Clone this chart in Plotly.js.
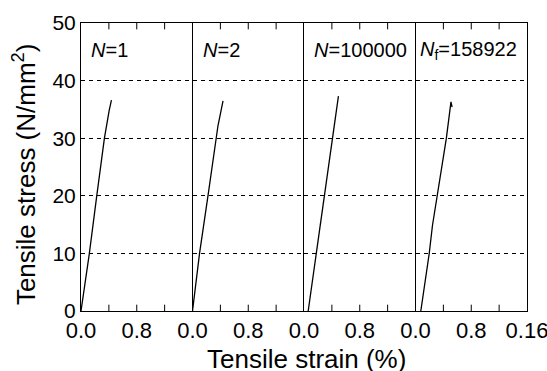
<!DOCTYPE html>
<html>
<head>
<meta charset="utf-8">
<script src="https://cdn.plot.ly/plotly-3.0.1.min.js"></script>
<style>html,body{margin:0;padding:0;background:#fff;}#chart{width:547px;height:371px;}</style>
</head>
<body>
<div id="chart"></div>
<script>
// Panel labels
const panelLabels = ["<i>N</i>=1", "<i>N</i>=2", "<i>N</i>=100000", "<i>N</i><sub>f</sub>=158922"];

// Tensile strain (%) and tensile stress (N/mm2) per panel
const strain1 = [0.000, 0.012, 0.0226, 0.0336, 0.0404, 0.0437];
const stress1 = [0, 10, 20, 30, 34.8, 36.6];

const strain2 = [0.000, 0.0101, 0.0222, 0.0342, 0.0366, 0.0438];
const stress2 = [0, 10, 20, 30, 32.2, 36.5];

const strain3 = [0.006, 0.0175, 0.0296, 0.0414, 0.0494];
const stress3 = [0, 10, 20, 30, 37.3];

const strain4 = [0.0076, 0.0197, 0.0243, 0.0262, 0.0308, 0.0443, 0.0509, 0.0525];
const stress4 = [0, 10, 14.8, 16.2, 20, 30, 36.3, 35.4];

// Axis tick labels (as printed in the figure)
const xMajorVals = [0, 0.08, 0.16];
const xTickTextInner = ["0.0", "0.8", ""];
const xTickTextLast = ["0.0", "0.8", "0.16"];
const xInnerTickVals = [0.04, 0.08, 0.12];
const yTickVals = [0, 10, 20, 30, 40, 50];
const yRange = [0, 50];
const tickLenY = 1.1; // inward tick length in stress units

const strains = [strain1, strain2, strain3, strain4];
const stresses = [stress1, stress2, stress3, stress4];
const labelX = [0.075, 0.08, 0.075, 0.02];

const font = "Liberation Sans, Arial, sans-serif";
const traces = [];
strains.forEach((s, i) => {
  const xid = i === 0 ? "x" : "x" + (i + 1);
  const yid = i === 0 ? "y" : "y" + (i + 1);
  traces.push({
    x: s, y: stresses[i], type: "scatter", mode: "lines",
    line: {color: "#000", width: 1.3},
    xaxis: xid, yaxis: yid, showlegend: false, hoverinfo: "skip"
  });
  // inward tick marks on bottom and top frame edges
  const tx = [], ty = [];
  xInnerTickVals.forEach(v => {
    tx.push(v, v, null, v, v, null);
    ty.push(yRange[0], yRange[0] + tickLenY, null, yRange[1], yRange[1] - tickLenY, null);
  });
  traces.push({
    x: tx, y: ty, type: "scatter", mode: "lines", connectgaps: false,
    line: {color: "#000", width: 1},
    xaxis: xid, yaxis: yid, showlegend: false, hoverinfo: "skip"
  });
});

const layout = {
  width: 547, height: 371,
  margin: {l: 81, r: 20, t: 23, b: 60},
  paper_bgcolor: "#fff", plot_bgcolor: "#fff",
  font: {family: font, color: "#000", size: 20},
  showlegend: false,
  annotations: []
};

for (let i = 0; i < 4; i++) {
  const xa = i === 0 ? "xaxis" : "xaxis" + (i + 1);
  const ya = i === 0 ? "yaxis" : "yaxis" + (i + 1);
  const yid = i === 0 ? "y" : "y" + (i + 1);
  const xid = i === 0 ? "x" : "x" + (i + 1);
  layout[xa] = {
    domain: [i / 4, (i + 1) / 4], anchor: yid,
    range: [0, 0.16], tickmode: "array", tickvals: xMajorVals,
    ticktext: i === 3 ? xTickTextLast : xTickTextInner,
    ticks: "",
    showline: true, linecolor: "#000", linewidth: 1, mirror: true,
    showgrid: false, zeroline: false, ticklabeloverflow: "allow",
    tickfont: {size: 22}
  };
  layout[ya] = {
    domain: [0, 1], anchor: xid,
    range: yRange, tickvals: yTickVals,
    showticklabels: i === 0,
    ticks: "", showline: true, linecolor: "#000", linewidth: 1, mirror: i === 3,
    showgrid: true, gridcolor: "#000", gridwidth: 1, griddash: "4px,4px",
    zeroline: false, tickfont: {size: 21}
  };
  if (i > 0) layout[ya].matches = "y";
  layout.annotations.push({
    text: panelLabels[i], xref: xid + " domain", yref: yid + " domain",
    x: labelX[i], y: 0.905, xanchor: "left", yanchor: "middle",
    showarrow: false, font: {size: 20}
  });
}
layout.annotations.push({
  text: "Tensile stress (N/mm<sup>2</sup>)", xref: "paper", yref: "paper",
  x: -0.128, y: 0.475, xanchor: "center", yanchor: "middle", textangle: -90,
  showarrow: false, font: {size: 26}
});
layout.annotations.push({
  text: "Tensile strain (%)", xref: "paper", yref: "paper",
  x: 0.505, y: -0.165, xanchor: "center", yanchor: "middle",
  showarrow: false, font: {size: 26}
});

Plotly.newPlot("chart", traces, layout, {staticPlot: true, displayModeBar: false});
</script>
</body>
</html>
